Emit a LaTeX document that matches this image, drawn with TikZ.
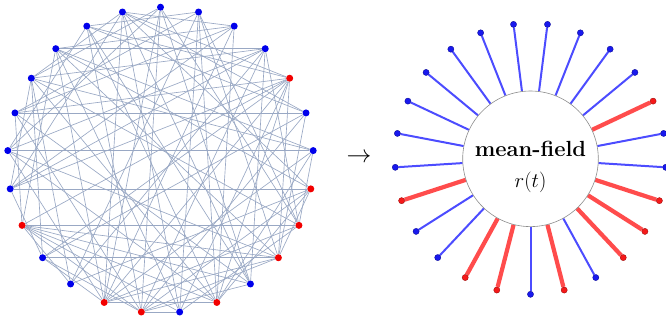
\documentclass[tikz,border=0pt]{standalone}
\usetikzlibrary{backgrounds}

\definecolor{edgecol}{rgb}{0.6,0.66,0.77}
\definecolor{vblue}{rgb}{0,0,0.92}
\definecolor{vred}{rgb}{0.95,0,0}
\definecolor{spokeblue}{rgb}{0.3,0.3,1}
\definecolor{spokered}{rgb}{1,0.3,0.3}

\tikzset{
  vert/.style={circle, inner sep=0pt, minimum size=7bp},
  bvert/.style={vert, fill=vblue},
  rvert/.style={vert, fill=vred},
  link/.style={draw=edgecol, line width=0.65bp},
  sdot/.style={circle, inner sep=0pt, minimum size=6.2bp, line width=0.3bp},
  bsdot/.style={sdot, fill=vblue!90!white, draw=vblue!60!black},
  rsdot/.style={sdot, fill=vred!90!white, draw=vred!60!black},
  bspoke/.style={draw=spokeblue, line width=2bp},
  rspoke/.style={draw=spokered, line width=4.2bp},
  field/.style={circle, draw=black!45, line width=0.6bp, inner sep=0pt, minimum size=135.6bp},
  bigtext/.style={inner sep=0pt, font=\fontsize{22}{26}\selectfont},
}

\begin{document}
\begin{tikzpicture}[x=1bp, y=-1bp]
  \useasboundingbox (0,0) rectangle (666,324);

  % network: 25 oscillators on a circle
  \foreach \k/\s in {0/bvert,1/bvert,2/bvert,3/bvert,4/rvert,5/bvert,6/bvert,
      7/rvert,8/rvert,9/rvert,10/bvert,11/rvert,12/bvert,13/rvert,14/rvert,
      15/bvert,16/bvert,17/rvert,18/bvert,19/bvert,20/bvert,21/bvert,22/bvert,
      23/bvert,24/bvert}
    \node[\s] (v\k) at ({160.5+153*cos(90-14.4*\k)}, {160.2-153*sin(90-14.4*\k)}) {};

  \begin{scope}[on background layer]
    \foreach \a/\b in {
      0/14,0/13,0/21,0/10,0/8,0/19,
      1/23,1/15,1/11,1/9,1/20,1/12,
      2/24,2/22,2/14,2/18,2/11,
      3/22,3/13,3/8,3/10,3/15,
      4/23,4/17,4/18,4/16,4/14,4/12,4/20,4/24,4/11,4/9,
      5/20,5/23,5/16,5/13,5/9,5/24,
      6/19,6/21,6/14,6/11,6/8,
      7/18,7/22,7/15,7/13,7/24,7/9,
      8/17,8/21,8/14,8/1,8/12,
      9/16,9/17,9/22,9/13,9/19,
      10/24,10/17,10/13,10/20,
      11/17,11/21,11/23,11/19,11/14,11/7,
      12/13,12/22,12/17,
      13/20,13/23,13/16,13/17,
      14/24,14/22,14/19,14/16,14/9,
      15/21,15/17,
      16/21,16/18,
      17/20,17/22,
      18/21,18/3,18/24,
      19/3,19/23,
      20/2,
      21/3,21/24,
      22/6,
      23/10,
      24/12}
      \draw[link] (v\a) -- (v\b);
  \end{scope}

  % arrow between the two panels
  \node[inner sep=0pt, font=\fontsize{30}{34}\selectfont] (arr) at (359,158) {$\rightarrow$};

  % mean-field picture
  \node[field] (mf) at (530.5,158.8) {};
  \node[bigtext] (title) at (530.5,149.2) {\textbf{mean-field}};
  \node[bigtext] (var) at (530.5,182.8) {$r(t)$};

  \foreach \j/\s in {0/b,1/r,2/b,3/r,4/r,5/r,6/b,7/b,8/r,9/b,10/b,11/b,12/b,
      13/b,14/b,15/b,16/b,17/b,18/b,19/b,20/r,21/b,22/b,23/r,24/r}
    \node[\s sdot] (s\j) at ({530.5+135.5*cos(-90+14.4*\j)}, {158.8-135.5*sin(-90+14.4*\j)}) {};

  \begin{scope}[on background layer]
    \foreach \j/\s in {0/b,1/r,2/b,3/r,4/r,5/r,6/b,7/b,8/r,9/b,10/b,11/b,12/b,
        13/b,14/b,15/b,16/b,17/b,18/b,19/b,20/r,21/b,22/b,23/r,24/r}
      \draw[\s spoke] (mf) -- (s\j);
  \end{scope}
\end{tikzpicture}
\end{document}
